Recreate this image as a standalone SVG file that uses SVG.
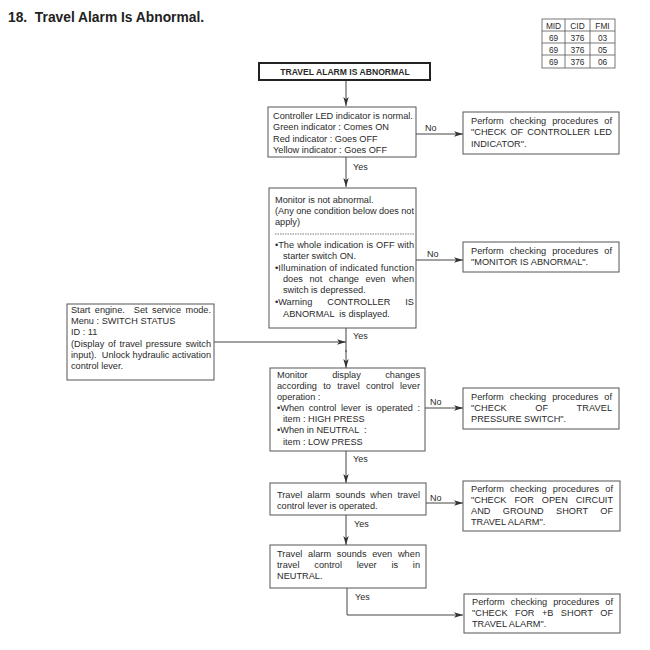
<svg xmlns="http://www.w3.org/2000/svg" width="650" height="650" viewBox="0 0 650 650">
<defs>
<marker id="ah" viewBox="0 0 10 6" refX="10" refY="3" markerWidth="9" markerHeight="6" markerUnits="userSpaceOnUse" orient="auto">
<path d="M0,0 L10,3 L0,6 L2.5,3 Z" fill="#333"/>
</marker>
</defs>
<style>
text{font-family:"Liberation Sans",Arial,sans-serif;font-size:9.2px;fill:#2a2a2a;white-space:pre}
.box{fill:#fff;stroke:#555;stroke-width:1}
.tb{font-size:8.3px;text-anchor:middle}
.ln{stroke:#444;stroke-width:1;fill:none}
.arr{stroke:#444;stroke-width:1;fill:none;marker-end:url(#ah)}
.lbl{font-size:9px}
</style>
<rect width="650" height="650" fill="#fff"/>
<text x="8" y="22" style="font-size:13.8px;font-weight:bold;fill:#222">18.  Travel Alarm Is Abnormal.</text>

<g id="table">
<rect x="542" y="19" width="73" height="49" fill="#fff" stroke="#555" stroke-width="0.8"/>
<path d="M542,31H615M542,43H615M542,55H615M565,19V68M590,19V68" stroke="#555" stroke-width="0.8"/>
<text class="tb" x="553.5" y="28.5">MID</text><text class="tb" x="577.5" y="28.5">CID</text><text class="tb" x="602.5" y="28.5">FMI</text>
<text class="tb" x="553.5" y="40.5">69</text><text class="tb" x="577.5" y="40.5">376</text><text class="tb" x="602.5" y="40.5">03</text>
<text class="tb" x="553.5" y="52.5">69</text><text class="tb" x="577.5" y="52.5">376</text><text class="tb" x="602.5" y="52.5">05</text>
<text class="tb" x="553.5" y="64.5">69</text><text class="tb" x="577.5" y="64.5">376</text><text class="tb" x="602.5" y="64.5">06</text>
</g>

<g id="connectors">
<line class="arr" x1="346" y1="80" x2="346" y2="106"/>
<line class="arr" x1="416" y1="134" x2="463" y2="134"/>
<text class="lbl" x="353" y="170">Yes</text>
<line class="arr" x1="346" y1="157" x2="346" y2="187"/>
<text class="lbl" x="425" y="131">No</text>
<line class="arr" x1="416" y1="260" x2="463" y2="260"/>
<text class="lbl" x="427" y="257">No</text>
<line class="ln" x1="346" y1="328" x2="346" y2="352"/>
<text class="lbl" x="353" y="339">Yes</text>
<line class="arr" x1="214" y1="342" x2="346" y2="342"/>
<line class="arr" x1="346" y1="350" x2="346" y2="368"/>
<line class="arr" x1="425" y1="408" x2="463" y2="408"/>
<text class="lbl" x="430" y="405">No</text>
<line class="arr" x1="346" y1="451" x2="346" y2="483"/>
<text class="lbl" x="353" y="462">Yes</text>
<line class="arr" x1="426" y1="503" x2="463" y2="503"/>
<text class="lbl" x="430" y="501">No</text>
<line class="arr" x1="346" y1="515" x2="346" y2="545"/>
<text class="lbl" x="354" y="527">Yes</text>
<polyline class="arr" points="347,588 347,615 463,615"/>
<text class="lbl" x="355" y="600">Yes</text>
</g>

<g id="start">
<rect x="259" y="63" width="171" height="17" fill="#fff" stroke="#222" stroke-width="2"/>
<text x="345" y="75" style="font-size:8.6px;font-weight:bold;text-anchor:middle">TRAVEL ALARM IS ABNORMAL</text>
</g>

<g id="led-check">
<rect class="box" x="268" y="107" width="148" height="50"/>
<text x="273" y="119">Controller LED indicator is normal.</text>
<text x="273" y="130">Green indicator : Comes ON</text>
<text x="273" y="142">Red indicator : Goes OFF</text>
<text x="273" y="153">Yellow indicator : Goes OFF</text>
</g>

<g id="led-proc">
<rect class="box" x="463" y="112" width="156" height="42"/>
<text x="471" y="124" word-spacing="3.5" textLength="141" lengthAdjust="spacing">Perform checking procedures of</text>
<text x="471" y="135" word-spacing="1.4" textLength="141" lengthAdjust="spacing">"CHECK OF CONTROLLER LED</text>
<text x="471" y="147">INDICATOR".</text>
</g>

<g id="monitor-check">
<rect class="box" x="269" y="188" width="147" height="140"/>
<text x="275" y="203">Monitor is not abnormal.</text>
<text x="275" y="214" textLength="139" lengthAdjust="spacing">(Any one condition below does not</text>
<text x="275" y="225">apply)</text>
<line x1="275" y1="234" x2="414" y2="234" stroke="#444" stroke-width="0.7" stroke-dasharray="1.5,1"/>
<text x="275" y="248" word-spacing="0.5" textLength="139" lengthAdjust="spacing">•The whole indication is OFF with</text>
<text x="283" y="259">starter switch ON.</text>
<text x="275" y="271" textLength="139" lengthAdjust="spacing">•Illumination of indicated function</text>
<text x="283" y="282" word-spacing="4" textLength="131" lengthAdjust="spacing">does not change even when</text>
<text x="283" y="293">switch is depressed.</text>
<text x="275" y="305" word-spacing="12.4" textLength="139" lengthAdjust="spacing">•Warning CONTROLLER IS</text>
<text x="283" y="317">ABNORMAL  is displayed.</text>
</g>

<g id="monitor-proc">
<rect class="box" x="463" y="242" width="156" height="30"/>
<text x="471" y="254" word-spacing="3.5" textLength="141" lengthAdjust="spacing">Perform checking procedures of</text>
<text x="471" y="265">"MONITOR IS ABNORMAL".</text>
</g>

<g id="service-mode">
<rect class="box" x="67" y="304" width="147" height="76"/>
<text x="71" y="313" word-spacing="2" textLength="140" lengthAdjust="spacing">Start engine.  Set service mode.</text>
<text x="71" y="324">Menu : SWITCH STATUS</text>
<text x="71" y="335">ID : 11</text>
<text x="71" y="347" word-spacing="1.2" textLength="140" lengthAdjust="spacing">(Display of travel pressure switch</text>
<text x="71" y="358" textLength="140" lengthAdjust="spacing">input).  Unlock hydraulic activation</text>
<text x="71" y="369">control lever.</text>
</g>

<g id="display-check">
<rect class="box" x="270" y="368" width="155" height="83"/>
<text x="277" y="378" word-spacing="21.9" textLength="143" lengthAdjust="spacing">Monitor display changes</text>
<text x="277" y="389" word-spacing="3.8" textLength="143" lengthAdjust="spacing">according to travel control lever</text>
<text x="277" y="400">operation :</text>
<text x="277" y="411" word-spacing="2" textLength="143" lengthAdjust="spacing">•When control lever is operated :</text>
<text x="283" y="422">item : HIGH PRESS</text>
<text x="277" y="433">•When in NEUTRAL  :</text>
<text x="283" y="445">item : LOW PRESS</text>
</g>

<g id="pressure-proc">
<rect class="box" x="463" y="388" width="156" height="41"/>
<text x="471" y="400" word-spacing="3.5" textLength="141" lengthAdjust="spacing">Perform checking procedures of</text>
<text x="471" y="411" word-spacing="25.9" textLength="141" lengthAdjust="spacing">"CHECK OF TRAVEL</text>
<text x="471" y="422">PRESSURE SWITCH".</text>
</g>

<g id="alarm-check">
<rect class="box" x="270" y="483" width="156" height="32"/>
<text x="277" y="498" word-spacing="2.5" textLength="143" lengthAdjust="spacing">Travel alarm sounds when travel</text>
<text x="277" y="509">control lever is operated.</text>
</g>

<g id="open-proc">
<rect class="box" x="463" y="481" width="157" height="50"/>
<text x="471" y="492" word-spacing="3.7" textLength="142" lengthAdjust="spacing">Perform checking procedures of</text>
<text x="471" y="503" word-spacing="5.4" textLength="142" lengthAdjust="spacing">"CHECK FOR OPEN CIRCUIT</text>
<text x="471" y="514" word-spacing="9.7" textLength="142" lengthAdjust="spacing">AND GROUND SHORT OF</text>
<text x="471" y="525">TRAVEL ALARM".</text>
</g>

<g id="neutral-check">
<rect class="box" x="270" y="545" width="156" height="43"/>
<text x="277" y="557" word-spacing="3.1" textLength="143" lengthAdjust="spacing">Travel alarm sounds even when</text>
<text x="277" y="568" word-spacing="12.2" textLength="143" lengthAdjust="spacing">travel control lever is in</text>
<text x="277" y="579">NEUTRAL.</text>
</g>

<g id="short-proc">
<rect class="box" x="464" y="594" width="156" height="39"/>
<text x="472" y="605" word-spacing="3.5" textLength="141" lengthAdjust="spacing">Perform checking procedures of</text>
<text x="472" y="616" word-spacing="4.8" textLength="141" lengthAdjust="spacing">"CHECK FOR +B SHORT OF</text>
<text x="472" y="627">TRAVEL ALARM".</text>
</g>
</svg>
